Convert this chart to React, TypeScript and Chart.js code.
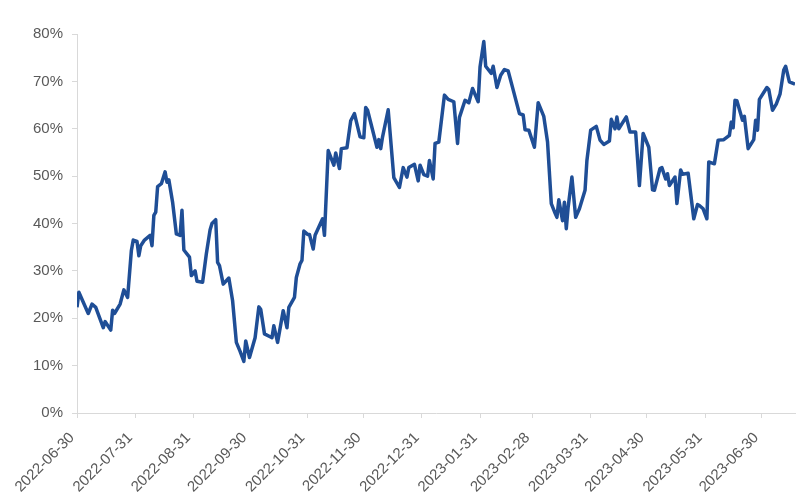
import React, { useEffect, useRef } from "react";
import { Chart, registerables } from "chart.js";

Chart.register(...registerables);

// Days since 2022-06-30
const dayOffsets = [
  0, 1, 6, 8, 10, 14, 15, 18, 19, 20, 23, 25, 27, 29, 30, 32, 33, 34, 36, 39,
  40, 41, 42, 43, 45, 47, 48, 49, 51, 53, 55, 56, 57, 60, 61, 63, 64, 67, 69, 71,
  72, 74, 75, 76, 78, 81, 83, 85, 87, 89, 90, 92, 95, 97, 98, 100, 103, 104, 105, 107,
  110, 112, 113, 116, 117, 119, 120, 121, 123, 124, 126, 127, 131, 132, 134, 137, 138, 140, 141, 144,
  146, 148, 151, 153, 154, 155, 160, 161, 162, 163, 166, 169, 172, 174, 176, 177, 180, 182, 183, 185,
  187, 188, 190, 191, 193, 196, 198, 201, 203, 204, 207, 209, 211, 214, 215, 217, 218, 221, 222, 224,
  226, 228, 230, 232, 236, 238, 239, 241, 244, 246, 249, 251, 253, 255, 256, 257, 259, 260, 261, 262,
  264, 266, 268, 271, 272, 274, 277, 279, 281, 284, 285, 287, 288, 289, 293, 295, 298, 300, 302, 305,
  307, 308, 311, 312, 314, 315, 316, 319, 320, 322, 323, 326, 329, 331, 332, 334, 336, 337, 340, 342,
  345, 348, 349, 350, 351, 352, 355, 356, 358, 361, 362, 363, 364, 368, 369, 371, 373, 375, 377, 378,
  380, 383,
];

// Series values (%)
const seriesValues = [
  22.3, 25.5, 21, 23, 22.3, 18, 19.3, 17.5, 21.7, 21, 23, 26, 24.4, 34.3, 36.5, 36.2, 33.2, 35.3, 36.5, 37.5,
  35.3, 41.7, 42.4, 47.8, 48.4, 50.9, 48.7, 49.2, 44.5, 37.8, 37.5, 42.8, 34.4, 32.9, 29, 30, 27.8, 27.6, 33.6, 38.7,
  40.0, 40.8, 31.8, 31.1, 27.2, 28.5, 23.7, 14.9, 13, 10.9, 15.2, 11.7, 15.9, 22.4, 21.9, 16.7, 16.1, 15.9, 18.4, 14.9,
  21.6, 18, 22.3, 24.4, 28.6, 31.5, 32.2, 38.4, 37.7, 37.7, 34.6, 37.5, 41, 37.5, 55.4, 52.3, 54.9, 51.6, 55.8, 56,
  61.7, 63.2, 58.3, 58.1, 64.5, 63.9, 56.1, 57.7, 55.8, 58.3, 64, 49.7, 47.6, 51.8, 49.8, 51.8, 52.5, 49, 52.3, 50.3,
  50, 53.3, 49.4, 56.9, 57.2, 67.1, 66.2, 65.7, 56.9, 62.4, 66, 65.5, 68.5, 65.7, 73.1, 78.4, 73.2, 71.7, 73.2, 68.7,
  71.3, 72.5, 72.2, 69.2, 63.2, 62.9, 59.8, 59.7, 56.1, 65.5, 62.6, 57.2, 44.2, 42.2, 41.3, 45, 40.6, 44.5, 38.9, 43.5,
  49.8, 41.3, 43.1, 47, 53.3, 59.7, 60.5, 57.6, 56.7, 57.4, 62, 60, 62.5, 60, 62.5, 59.3, 59.3, 48, 59, 56.1,
  47.1, 47, 51.6, 51.8, 49.4, 50.5, 48, 49.8, 44.2, 51.3, 50.4, 50.6, 41, 44, 43.8, 43.1, 41, 53, 52.6, 57.6,
  57.7, 58.6, 61.4, 60.2, 66, 65.9, 61.8, 62.6, 55.8, 57.7, 61.8, 59.7, 66.2, 68.7, 68.3, 63.9, 65.2, 67.3, 72.4, 73.2,
  69.9, 69.4,
];

// X-axis tick labels (month ends)
const tickLabels = [
  "2022-06-30", "2022-07-31", "2022-08-31", "2022-09-30", "2022-10-31", "2022-11-30",
  "2022-12-31", "2023-01-31", "2023-02-28", "2023-03-31", "2023-04-30", "2023-05-31", "2023-06-30",
];

const yTicks = [0, 10, 20, 30, 40, 50, 60, 70, 80];

const baseUTC = Date.UTC(2022, 5, 30);
const toDay = (s: string) => {
  const [y, m, d] = s.split("-").map(Number);
  return Math.round((Date.UTC(y, m - 1, d) - baseUTC) / 86400000);
};
const tickDays = tickLabels.map(toDay);

const LINE = "#1F4E96";
const AXIS = "#D9D9D9";
const TEXT = "#595959";
const FONT = "'Liberation Sans', Arial, sans-serif";

export default function App() {
  const ref = useRef<HTMLCanvasElement | null>(null);

  useEffect(() => {
    if (!ref.current) return;
    const chart = new Chart(ref.current, {
      type: "line",
      data: {
        datasets: [
          {
            data: dayOffsets.map((d, i) => ({ x: d, y: seriesValues[i] })),
            borderColor: LINE,
            borderWidth: 3.5,
            pointRadius: 0,
            tension: 0,
            borderJoinStyle: "round",
            fill: false,
          },
        ],
      },
      options: {
        animation: false,
        responsive: false,
        maintainAspectRatio: false,
        layout: { padding: { left: 0, right: 13, top: 34, bottom: 0 } },
        plugins: { legend: { display: false }, tooltip: { enabled: false } },
        scales: {
          x: {
            type: "linear",
            min: 0,
            max: dayOffsets[dayOffsets.length - 1],
            afterBuildTicks: (scale: any) => {
              scale.ticks = tickDays.map((v) => ({ value: v }));
            },
            afterFit: (scale: any) => {
              scale.height = 87;
            },
            grid: {
              display: true,
              drawOnChartArea: false,
              drawTicks: true,
              tickLength: 5,
              color: AXIS,
            },
            border: { display: true, color: AXIS, width: 1 },
            ticks: {
              autoSkip: false,
              maxRotation: 45,
              minRotation: 45,
              padding: 11,
              labelOffset: -5,
              color: TEXT,
              font: { family: FONT, size: 15 },
              callback: (v: any) => {
                const i = tickDays.indexOf(Number(v));
                return i >= 0 ? tickLabels[i] : "";
              },
            },
          },
          y: {
            min: 0,
            max: 80,
            afterBuildTicks: (scale: any) => {
              scale.ticks = yTicks.map((v) => ({ value: v }));
            },
            afterFit: (scale: any) => {
              scale.width = 77;
            },
            grid: {
              display: true,
              drawOnChartArea: false,
              drawTicks: true,
              tickLength: 5,
              color: AXIS,
            },
            border: { display: true, color: AXIS, width: 1 },
            ticks: {
              padding: 9,
              color: TEXT,
              font: { family: FONT, size: 15 },
              callback: (v: any) => `${v}%`,
            },
          },
        },
      },
    });
    return () => chart.destroy();
  }, []);

  return (
    <div style={{ position: "absolute", left: 0, top: 0, width: 808, height: 500, background: "#fff" }}>
      <canvas ref={ref} width={808} height={500} style={{ width: 808, height: 500, display: "block" }} />
    </div>
  );
}
